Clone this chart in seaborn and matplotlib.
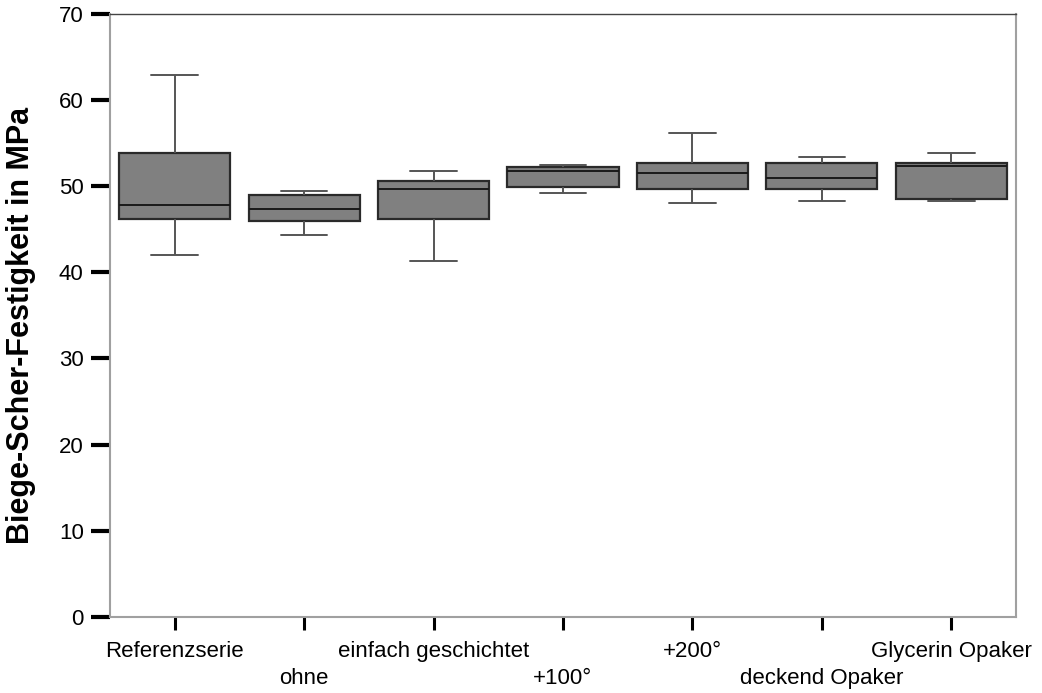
import numpy as np
import pandas as pd
import matplotlib
matplotlib.use("Agg")
import matplotlib.pyplot as plt
import seaborn as sns

# Groups and five-number summaries (min, Q1, median, Q3, max) in MPa
categories = ["Referenzserie", "ohne", "einfach geschichtet", "+100°",
              "+200°", "deckend Opaker", "Glycerin Opaker"]
minimum = [42.0, 44.3, 41.3, 49.2, 48.0, 48.25, 48.25]
q1      = [46.2, 46.0, 46.2, 49.9, 49.7, 49.7, 48.5]
median  = [47.8, 47.3, 49.7, 51.8, 51.5, 51.0, 52.4]
q3      = [53.8, 49.0, 50.65, 52.2, 52.7, 52.7, 52.7]
maximum = [62.9, 49.4, 51.8, 52.5, 56.2, 53.4, 53.9]
y_ticks = [0, 10, 20, 30, 40, 50, 60, 70]
y_label = "Biege-Scher-Festigkeit in MPa"

rows = []
for i, cat in enumerate(categories):
    for v in (minimum[i], q1[i], median[i], q3[i], maximum[i]):
        rows.append({"Gruppe": cat, "Wert": v})
df = pd.DataFrame(rows)

sns.set_theme(style="white")
plt.rcParams["font.family"] = ["Liberation Sans", "DejaVu Sans"]

fig = plt.figure(figsize=(10.42, 6.93), dpi=100)
ax = fig.add_axes([0.1056, 0.1097, 0.8694, 0.8703])

sns.boxplot(
    data=df, x="Gruppe", y="Wert", order=categories, ax=ax,
    whis=np.inf, width=0.86, color="#808080", saturation=1,
    linecolor="#2a2a2a", linewidth=1.4, capwidths=0.36,
    boxprops=dict(facecolor="#808080", edgecolor="#2a2a2a", linewidth=1.6),
    medianprops=dict(color="#1a1a1a", linewidth=1.4),
    whiskerprops=dict(color="#555555", linewidth=1.4),
    capprops=dict(color="#555555", linewidth=1.4),
)

ax.set_xlim(-0.5, len(categories) - 0.5)
ax.set_ylim(0, 70)
ax.set_yticks(y_ticks)
ax.set_yticklabels([str(t) for t in y_ticks], fontsize=16, color="black")
ax.set_xticks(range(len(categories)))
ax.set_xticklabels(categories, fontsize=16, color="black")
ax.set_xlabel("")
ax.set_ylabel(y_label, fontsize=22, fontweight="bold", color="black")
ax.yaxis.set_label_coords(-0.082, 0.484)

ax.tick_params(axis="y", direction="out", length=14, width=3, color="black", pad=5, left=True)
ax.tick_params(axis="x", direction="out", length=9, width=2.2, color="black", pad=8, bottom=True)

# Stagger the category labels on two rows
for i, tick in enumerate(ax.xaxis.get_major_ticks()):
    tick.set_pad(8 if i % 2 == 0 else 28)

for side in ("left", "right", "bottom"):
    ax.spines[side].set_color("#a0a0a0")
    ax.spines[side].set_linewidth(1.5)
ax.spines["top"].set_color("#444444")
ax.spines["top"].set_linewidth(1.0)
ax.grid(False)

fig.savefig("out.png", dpi=100, facecolor="white")
